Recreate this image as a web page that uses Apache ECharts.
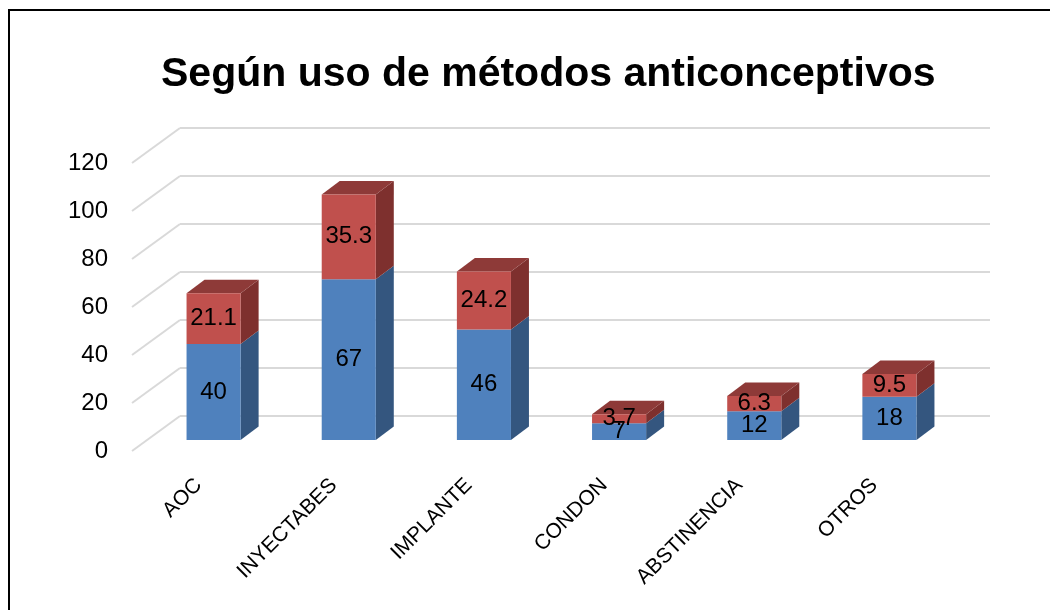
<!DOCTYPE html>
<html>
<head>
<meta charset="utf-8">
<script src="https://cdn.jsdelivr.net/npm/echarts@6/dist/echarts.min.js"></script>
<style>
  html, body { margin: 0; padding: 0; background: #fff; }
  #main { width: 1050px; height: 610px; }
</style>
</head>
<body>
<div id="main"></div>
<script>
  var categories = ['AOC', 'INYECTABES', 'IMPLANTE', 'CONDON', 'ABSTINENCIA', 'OTROS'];
  var serieAzul = [40, 67, 46, 7, 12, 18];
  var serieRoja = [21.1, 35.3, 24.2, 3.7, 6.3, 9.5];
  var yTicks = [0, 20, 40, 60, 80, 100, 120];

  var fuente = 'Liberation Sans, Arial, sans-serif';
  // profundidad de las barras (efecto 3d)
  var bx = 18, by = -13.5;

  function caras(params, api) {
    var i = api.value(0);
    var base = api.value(1);
    var tope = api.value(2);
    var conTapa = api.value(3);
    var ancho = api.size([1, 0])[0] * 0.4;
    var p0 = api.coord([i, base]);
    var p1 = api.coord([i, tope]);
    var x = p0[0] - ancho / 2;
    var xr = x + ancho;
    var esRoja = conTapa == 1;
    var lado = esRoja ? '#7e302e' : '#34567f';
    var hijos = [{
      type: 'polygon',
      shape: { points: [[xr, p0[1]], [xr + bx, p0[1] + by], [xr + bx, p1[1] + by], [xr, p1[1]]] },
      style: { fill: lado }
    }];
    if (esRoja) {
      hijos.push({
        type: 'polygon',
        shape: { points: [[x, p1[1]], [x + bx, p1[1] + by], [xr + bx, p1[1] + by], [xr, p1[1]]] },
        style: { fill: '#8e3a38' }
      });
    }
    return { type: 'group', children: hijos };
  }

  var datosCaras = [];
  for (var i = 0; i < categories.length; i++) {
    datosCaras.push([i, 0, serieAzul[i], 0]);
    datosCaras.push([i, serieAzul[i], serieAzul[i] + serieRoja[i], 1]);
  }

  var datosDiagonal = yTicks.map(function (v) { return [0, v]; });

  var ejeY = { type: 'value', min: 0, max: 120, interval: 20 };

  var option = {
    animation: false,
    backgroundColor: '#fff',
    title: {
      text: 'Según uso de métodos anticonceptivos',
      left: 156,
      top: 49,
      textStyle: { fontFamily: fuente, fontWeight: 'bold', fontSize: 41, color: '#000' }
    },
    graphic: [{
      type: 'rect',
      shape: { x: 9, y: 10, width: 1200, height: 800 },
      style: { fill: null, stroke: '#000', lineWidth: 2 },
      silent: true
    }],
    grid: [
      // pared del fondo
      { left: 180, top: 128, width: 810, height: 288 },
      // plano de las barras
      { left: 146, top: 152, width: 811, height: 288 },
      // plano frontal (etiquetas)
      { left: 131, top: 163, width: 811, height: 288 }
    ],
    xAxis: [
      { gridIndex: 0, type: 'value', min: 0, max: 1, show: false },
      { gridIndex: 1, type: 'category', data: categories, show: false },
      {
        gridIndex: 2, type: 'category', data: categories,
        axisLine: { show: false }, axisTick: { show: false },
        axisLabel: { rotate: 45, margin: 31, fontSize: 21, fontFamily: fuente, color: '#000' }
      }
    ],
    yAxis: [
      Object.assign({ gridIndex: 0, axisLabel: { show: false }, axisLine: { show: false },
        axisTick: { show: false },
        splitLine: { lineStyle: { color: '#d9d9d9', width: 2 } } }, ejeY),
      Object.assign({ gridIndex: 1, show: false }, ejeY),
      Object.assign({ gridIndex: 2, axisLine: { show: false }, axisTick: { show: false },
        splitLine: { show: false },
        axisLabel: { margin: 23, fontSize: 24, fontFamily: fuente, color: '#000' } }, ejeY)
    ],
    series: [
      {
        type: 'custom',
        xAxisIndex: 0, yAxisIndex: 0,
        data: datosDiagonal,
        renderItem: function (params, api) {
          var p = api.coord([api.value(0), api.value(1)]);
          return {
            type: 'line',
            shape: { x1: p[0], y1: p[1], x2: p[0] - 48, y2: p[1] + 35 },
            style: { stroke: '#d9d9d9', lineWidth: 2 }
          };
        },
        silent: true
      },
      {
        type: 'custom',
        xAxisIndex: 1, yAxisIndex: 1,
        data: datosCaras,
        renderItem: caras,
        silent: true,
        z: 3
      },
      {
        name: 'azul', type: 'bar', stack: 'total',
        xAxisIndex: 1, yAxisIndex: 1,
        data: serieAzul, barWidth: '40%',
        itemStyle: { color: '#4f81bd' },
        label: { show: true, position: 'inside', color: '#000', fontSize: 24, fontFamily: fuente },
        z: 4
      },
      {
        name: 'roja', type: 'bar', stack: 'total',
        xAxisIndex: 1, yAxisIndex: 1,
        data: serieRoja, barWidth: '40%',
        itemStyle: { color: '#c0504d' },
        label: { show: true, position: 'inside', color: '#000', fontSize: 24, fontFamily: fuente },
        z: 4
      }
    ]
  };

  var chart = echarts.init(document.getElementById('main'));
  chart.setOption(option);
</script>
</body>
</html>
